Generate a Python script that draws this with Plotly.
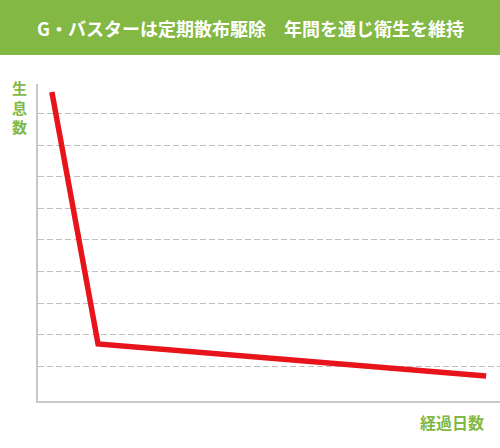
import plotly.graph_objects as go

# data
days = [3, 13, 97]
population = [98.1, 18.1, 7.9]
grid_levels = [11.1, 21.1, 31.1, 41.1, 51.1, 61.1, 71.1, 81.1, 91.1]

title_text = "G・バスターは定期散布駆除　年間を通じ衛生を維持"
y_label = "生<br>息<br>数"
x_label = "経過日数"

green = "#82b843"
red = "#e8141c"
font = "Noto Sans CJK JP"

# plot area in pixels: left 38.5 .. 500, top 84 .. bottom 401
def py(p):
    return (401 - p) / 317

def px(p):
    return (p - 38.5) / 461.5

fig = go.Figure()
fig.add_trace(go.Scatter(x=days, y=population, mode="lines",
                         line=dict(color=red, width=5.5), hoverinfo="skip"))

# green banner
fig.add_shape(type="rect", xref="paper", yref="paper", x0=-0.2, x1=1.2,
              y0=py(55), y1=1.5, fillcolor=green, line_width=0, layer="below")
fig.add_annotation(text="<b>" + title_text + "</b>", xref="paper", yref="paper",
                   x=px(251), y=py(28), yanchor="middle", xanchor="center",
                   showarrow=False,
                   font=dict(family=font, size=18, color="white"))
fig.add_annotation(text="<b>" + y_label + "</b>", xref="paper", yref="paper",
                   x=px(20), y=py(107), yanchor="middle", xanchor="center",
                   showarrow=False, align="center",
                   font=dict(family=font, size=15, color=green))
fig.add_annotation(text="<b>" + x_label + "</b>", xref="paper", yref="paper",
                   x=px(452), y=py(422), yanchor="middle", xanchor="center",
                   showarrow=False,
                   font=dict(family=font, size=16, color=green))

fig.update_layout(
    width=500, height=448,
    margin=dict(l=38, r=0, t=84, b=47),
    paper_bgcolor="white", plot_bgcolor="white",
    showlegend=False,
    xaxis=dict(range=[0, 100], showgrid=False, showticklabels=False, ticks="",
               zeroline=False, showline=True, linecolor="#c8c8c8", linewidth=1.5,
               fixedrange=True),
    yaxis=dict(range=[0, 100.6], tickvals=grid_levels, showticklabels=False,
               ticks="", showgrid=True, gridcolor="#c0c0c0", griddash="6px,3px",
               gridwidth=1, zeroline=False, showline=True, linecolor="#c8c8c8",
               linewidth=1.5, fixedrange=True),
)

fig.write_html("out.html", config={"displayModeBar": False},
               post_script="document.body.style.margin='0';")
